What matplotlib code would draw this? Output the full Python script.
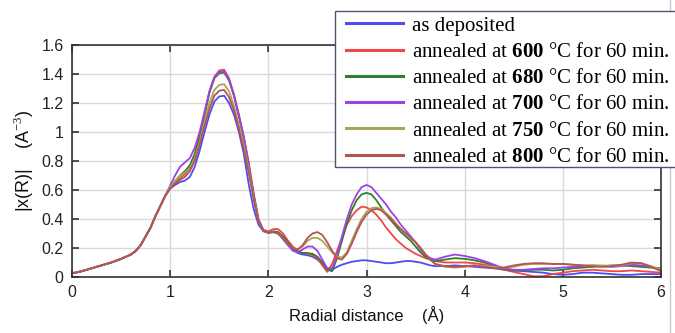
import numpy as np
import matplotlib
matplotlib.use("Agg")
import matplotlib.pyplot as plt
from matplotlib.lines import Line2D
from matplotlib.patches import Rectangle
from matplotlib.ticker import FormatStrFormatter

plt.rcParams['font.family'] = ['Liberation Sans', 'DejaVu Sans']
plt.rcParams['mathtext.fontset'] = 'custom'
plt.rcParams['mathtext.rm'] = 'Liberation Serif'
plt.rcParams['mathtext.bf'] = 'Liberation Serif:bold'

# sample positions (Angstrom)
r = np.concatenate([np.arange(0, 0.65, 0.1),
                    [0.65, 0.7, 0.75, 0.8, 0.85, 0.9, 0.95],
                    np.arange(1.0, 3.71, 0.05),
                    np.arange(3.8, 6.01, 0.1)])

# all samples overlap below 1 A
common = [0.025, 0.04, 0.06, 0.08, 0.10, 0.125, 0.155, 0.18, 0.22, 0.28,
          0.34, 0.42, 0.49, 0.56]

as_dep = [0.61, 0.635, 0.655, 0.665, 0.69, 0.76, 0.87, 1.00, 1.12, 1.21,
          1.245, 1.25, 1.20, 1.12, 1.00, 0.85, 0.64, 0.47, 0.36, 0.315,
          0.305, 0.31, 0.30, 0.26, 0.22, 0.19, 0.165, 0.155, 0.15, 0.14,
          0.12, 0.09, 0.06, 0.05, 0.07, 0.085, 0.095, 0.105, 0.11, 0.115,
          0.115, 0.11, 0.105, 0.10, 0.095, 0.095, 0.10, 0.105, 0.11, 0.11,
          0.105, 0.10, 0.09, 0.08, 0.075,
          0.075, 0.08, 0.075, 0.07, 0.065, 0.06, 0.05, 0.045, 0.04, 0.035,
          0.03, 0.02, 0.015, 0.02, 0.03, 0.03, 0.025, 0.02, 0.015, 0.015,
          0.02, 0.02, 0.02]

t600 = [0.62, 0.65, 0.68, 0.71, 0.75, 0.83, 0.96, 1.12, 1.28, 1.38,
        1.425, 1.43, 1.37, 1.26, 1.12, 0.97, 0.79, 0.58, 0.40, 0.325,
        0.315, 0.33, 0.33, 0.30, 0.25, 0.21, 0.18, 0.165, 0.16, 0.15,
        0.13, 0.08, 0.035, 0.09, 0.18, 0.27, 0.36, 0.42, 0.46, 0.485,
        0.48, 0.46, 0.43, 0.39, 0.34, 0.30, 0.26, 0.23, 0.20, 0.18,
        0.16, 0.145, 0.13, 0.12, 0.11,
        0.10, 0.10, 0.10, 0.095, 0.085, 0.07, 0.05, 0.035, 0.02, 0.005,
        0.005, 0.02, 0.03, 0.04, 0.045, 0.05, 0.045, 0.04, 0.04, 0.045,
        0.04, 0.035, 0.03]

t680 = [0.62, 0.66, 0.70, 0.73, 0.77, 0.85, 0.97, 1.12, 1.27, 1.37,
        1.405, 1.41, 1.355, 1.25, 1.11, 0.96, 0.78, 0.57, 0.39, 0.32,
        0.305, 0.315, 0.31, 0.28, 0.24, 0.20, 0.175, 0.165, 0.165, 0.16,
        0.14, 0.10, 0.05, 0.04, 0.13, 0.25, 0.37, 0.46, 0.53, 0.57,
        0.58, 0.57, 0.53, 0.48, 0.43, 0.39, 0.35, 0.31, 0.28, 0.25,
        0.21, 0.17, 0.14, 0.12, 0.11,
        0.12, 0.13, 0.125, 0.115, 0.10, 0.08, 0.055, 0.045, 0.045, 0.05,
        0.05, 0.045, 0.05, 0.06, 0.065, 0.07, 0.075, 0.08, 0.08, 0.075,
        0.07, 0.065, 0.06]

t700 = [0.63, 0.70, 0.76, 0.79, 0.82, 0.89, 1.00, 1.14, 1.28, 1.375,
        1.415, 1.42, 1.36, 1.25, 1.11, 0.96, 0.77, 0.56, 0.39, 0.32,
        0.305, 0.31, 0.30, 0.27, 0.22, 0.18, 0.17, 0.19, 0.21, 0.21,
        0.18, 0.12, 0.06, 0.06, 0.15, 0.28, 0.40, 0.50, 0.57, 0.62,
        0.635, 0.62, 0.58, 0.54, 0.50, 0.45, 0.41, 0.36, 0.32, 0.28,
        0.24, 0.19, 0.155, 0.13, 0.12,
        0.14, 0.155, 0.145, 0.13, 0.11, 0.085, 0.06, 0.05, 0.05, 0.055,
        0.06, 0.06, 0.065, 0.07, 0.075, 0.08, 0.075, 0.07, 0.075, 0.085,
        0.08, 0.07, 0.05]

t750 = [0.62, 0.66, 0.70, 0.72, 0.75, 0.82, 0.93, 1.07, 1.20, 1.29,
        1.325, 1.33, 1.28, 1.18, 1.05, 0.91, 0.74, 0.55, 0.38, 0.32,
        0.305, 0.31, 0.30, 0.27, 0.23, 0.20, 0.19, 0.21, 0.25, 0.27,
        0.27, 0.25, 0.21, 0.17, 0.14, 0.135, 0.17, 0.25, 0.33, 0.40,
        0.45, 0.475, 0.48, 0.47, 0.44, 0.41, 0.37, 0.33, 0.30, 0.27,
        0.24, 0.20, 0.16, 0.12, 0.09,
        0.07, 0.065, 0.07, 0.08, 0.075, 0.07, 0.065, 0.07, 0.085, 0.09,
        0.09, 0.09, 0.09, 0.085, 0.08, 0.08, 0.08, 0.075, 0.08, 0.095,
        0.095, 0.075, 0.05]

t800 = [0.61, 0.645, 0.67, 0.69, 0.73, 0.80, 0.91, 1.04, 1.16, 1.25,
        1.285, 1.29, 1.24, 1.15, 1.02, 0.88, 0.72, 0.54, 0.38, 0.32,
        0.305, 0.31, 0.30, 0.27, 0.23, 0.20, 0.19, 0.22, 0.27, 0.30,
        0.31, 0.29, 0.24, 0.18, 0.13, 0.12, 0.16, 0.23, 0.31, 0.38,
        0.43, 0.46, 0.47, 0.46, 0.43, 0.40, 0.36, 0.33, 0.30, 0.27,
        0.24, 0.20, 0.155, 0.12, 0.09,
        0.075, 0.07, 0.075, 0.08, 0.07, 0.06, 0.065, 0.08, 0.09, 0.095,
        0.095, 0.09, 0.09, 0.085, 0.08, 0.075, 0.07, 0.075, 0.085, 0.10,
        0.095, 0.07, 0.04]

temps = ['600', '680', '700', '750', '800']
series = [as_dep, t600, t680, t700, t750, t800]
colors = ['#4d4df2', '#f04848', '#2f7f32', '#a040e6', '#a8a654', '#b65252']
labels = ['as deposited'] + [r'annealed at $\mathbf{%s}$ °C for 60 min.' % t
                             for t in temps]

W, H = 675, 333
fig = plt.figure(figsize=(W / 100, H / 100), dpi=100)
ax = fig.add_axes([72 / W, 56 / H, 589 / W, 232 / H])

for ys, c in zip(series, colors):
    y = np.array(common + ys)
    assert len(y) == len(r)
    ax.plot(r, y, color=c, lw=1.3)

ax.set_xlim(0, 6)
ax.set_ylim(0, 1.6)
ax.set_xticks(np.arange(0, 7, 1))
ax.set_yticks(np.arange(0, 1.61, 0.2))
ax.yaxis.set_major_formatter(FormatStrFormatter('%g'))
ax.grid(True, color='#dadada', lw=1)
ax.set_axisbelow(True)
ax.tick_params(direction='in', top=True, right=True, length=5, width=1.2,
               color='#333333', labelsize=11.5, labelcolor='#222222', pad=6)
for s in ax.spines.values():
    s.set_color('#333333')
    s.set_linewidth(1.2)

ax.set_xlabel(u'Radial distance    (\u00c5)', fontsize=12, color='#111111',
              labelpad=4)
ax.set_ylabel(u'|x(R)|    (A$^{-3}$)', fontsize=13, color='#111111',
              labelpad=4)

# thin border line at the right of the figure
fig.add_artist(Line2D([670 / W, 670 / W], [0, 1], color='#c8c8c8',
                      lw=1, transform=fig.transFigure, zorder=0))

# legend box runs off the right edge of the figure
box = Rectangle((335 / W, 1 - 167 / H), 400 / W, 156 / H,
                transform=fig.transFigure, facecolor='white',
                edgecolor='#4a5570', lw=1, zorder=4)
fig.add_artist(box)

handles = [Line2D([], [], color=c, lw=2.2) for c in colors]
leg = fig.legend(handles, labels, loc='upper left',
                 bbox_to_anchor=(346 / W, 1 - 16 / H),
                 prop={'family': 'Liberation Serif', 'size': 15.0},
                 frameon=False, handlelength=2.75, handletextpad=0.4,
                 labelspacing=0.32, borderpad=0, borderaxespad=0)
leg.set_zorder(5)

fig.savefig('out.png', dpi=100)
